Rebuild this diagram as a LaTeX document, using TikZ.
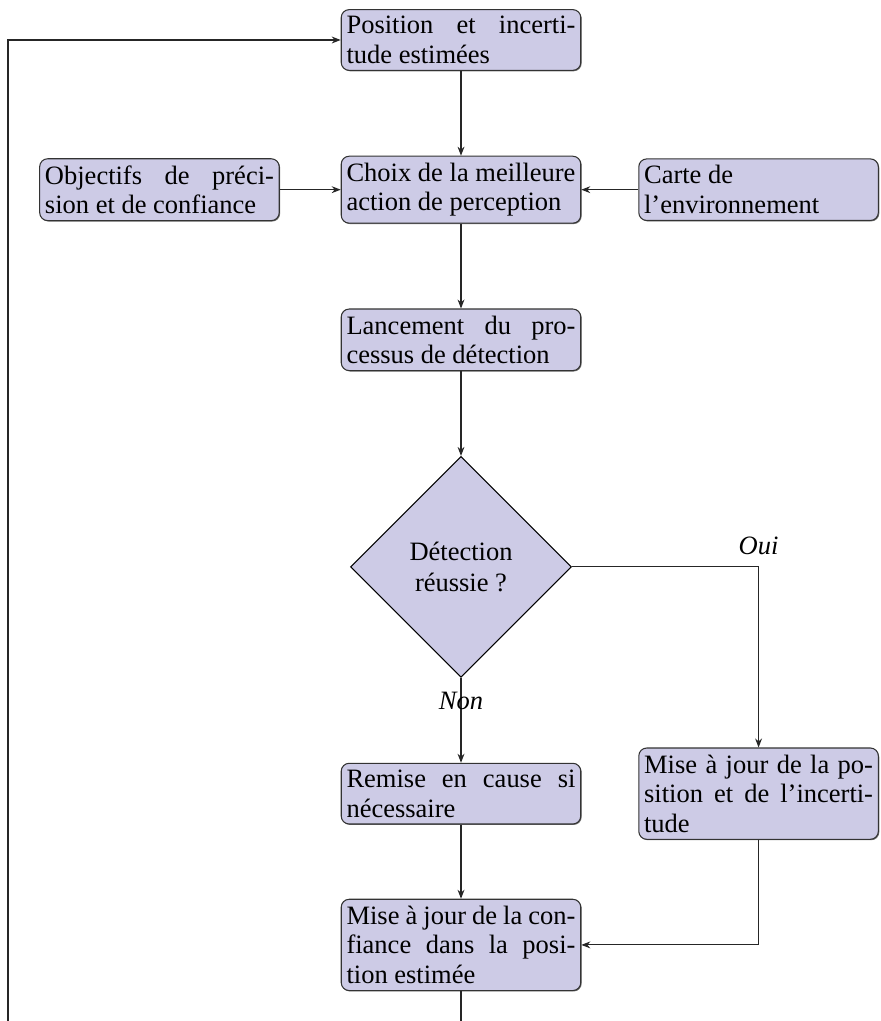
\documentclass[tikz,border=0pt]{standalone}
\usepackage{fontspec}
\setmainfont{Liberation Serif}
\usepackage{tikz}
\usetikzlibrary{positioning, arrows.meta, shapes.geometric, shadows}
\definecolor{lavande}{RGB}{205,203,230}
\tikzset{bloc/.style={draw=black!80, fill=lavande, rounded corners=3pt, text width=86.4pt, align=justify, inner xsep=2pt, inner ysep=2.5pt, font=\fontsize{10}{11.2}\selectfont, drop shadow={shadow xshift=0.35pt, shadow yshift=-0.35pt, fill=black!55, opacity=1}},
decision/.style={draw, diamond, fill=lavande, align=center, inner sep=0pt, minimum width=83.4pt, minimum height=83.4pt, font=\fontsize{10}{12}\selectfont},
fleche/.style={-{Stealth[length=3.4pt, width=2.6pt]}, draw=black!85},
etiq/.style={font=\itshape}}

\begin{document}
\begin{tikzpicture}[x=0.3774pt, y=0.3774pt, node distance=32pt and 21.5pt]
  \useasboundingbox (0,0) rectangle (880,-1021);
  \clip (0,0) rectangle (880,-1021);
  % chaine principale
  \node[bloc] (pos) at (461,-40) {Position et incerti-\linebreak tude estimées};
  \node[bloc, below=of pos] (choix) {Choix de la meilleure\linebreak action de perception};
  \node[bloc, below=of choix] (lanc) {Lancement du pro-\linebreak cessus de détection};
  \node[decision, below=of lanc] (test) {Détection\\ réussie~?};
  \node[bloc, below=of test] (remise) {Remise en cause si\linebreak nécessaire};
  \node[bloc, below=28pt of remise] (conf) {Mise à jour de la con-\linebreak fiance dans la posi-\linebreak tion estimée};
  % entrees laterales
  \node[bloc, left=23pt of choix] (obj) {Objectifs de préci-\linebreak sion et de confiance};
  \node[bloc, right=of choix] (carte) {Carte de\\ l'environnement};
  \node[bloc, right=of remise] (majpos) {Mise à jour de la po-\linebreak sition et de l'incerti-\linebreak tude};
  % retour
  \coordinate (bas) at (8,-1040);
  % liens
  \draw[fleche] (pos) -- (choix);
  \draw[fleche] (obj) -- (choix);
  \draw[fleche] (carte) -- (choix);
  \draw[fleche] (choix) -- (lanc);
  \draw[fleche] (lanc) -- (test);
  \draw[fleche] (test) -- node[etiq, below=2pt, pos=0]{Non} (remise);
  \draw[fleche] (test.east) -| node[etiq, above=1pt]{Oui} (majpos.north);
  \draw[fleche] (remise) -- (conf);
  \draw[fleche] (majpos.south) |- (conf.east);
  \draw[fleche] (conf.south) |- (bas) |- (pos.west);
\end{tikzpicture}
\end{document}
